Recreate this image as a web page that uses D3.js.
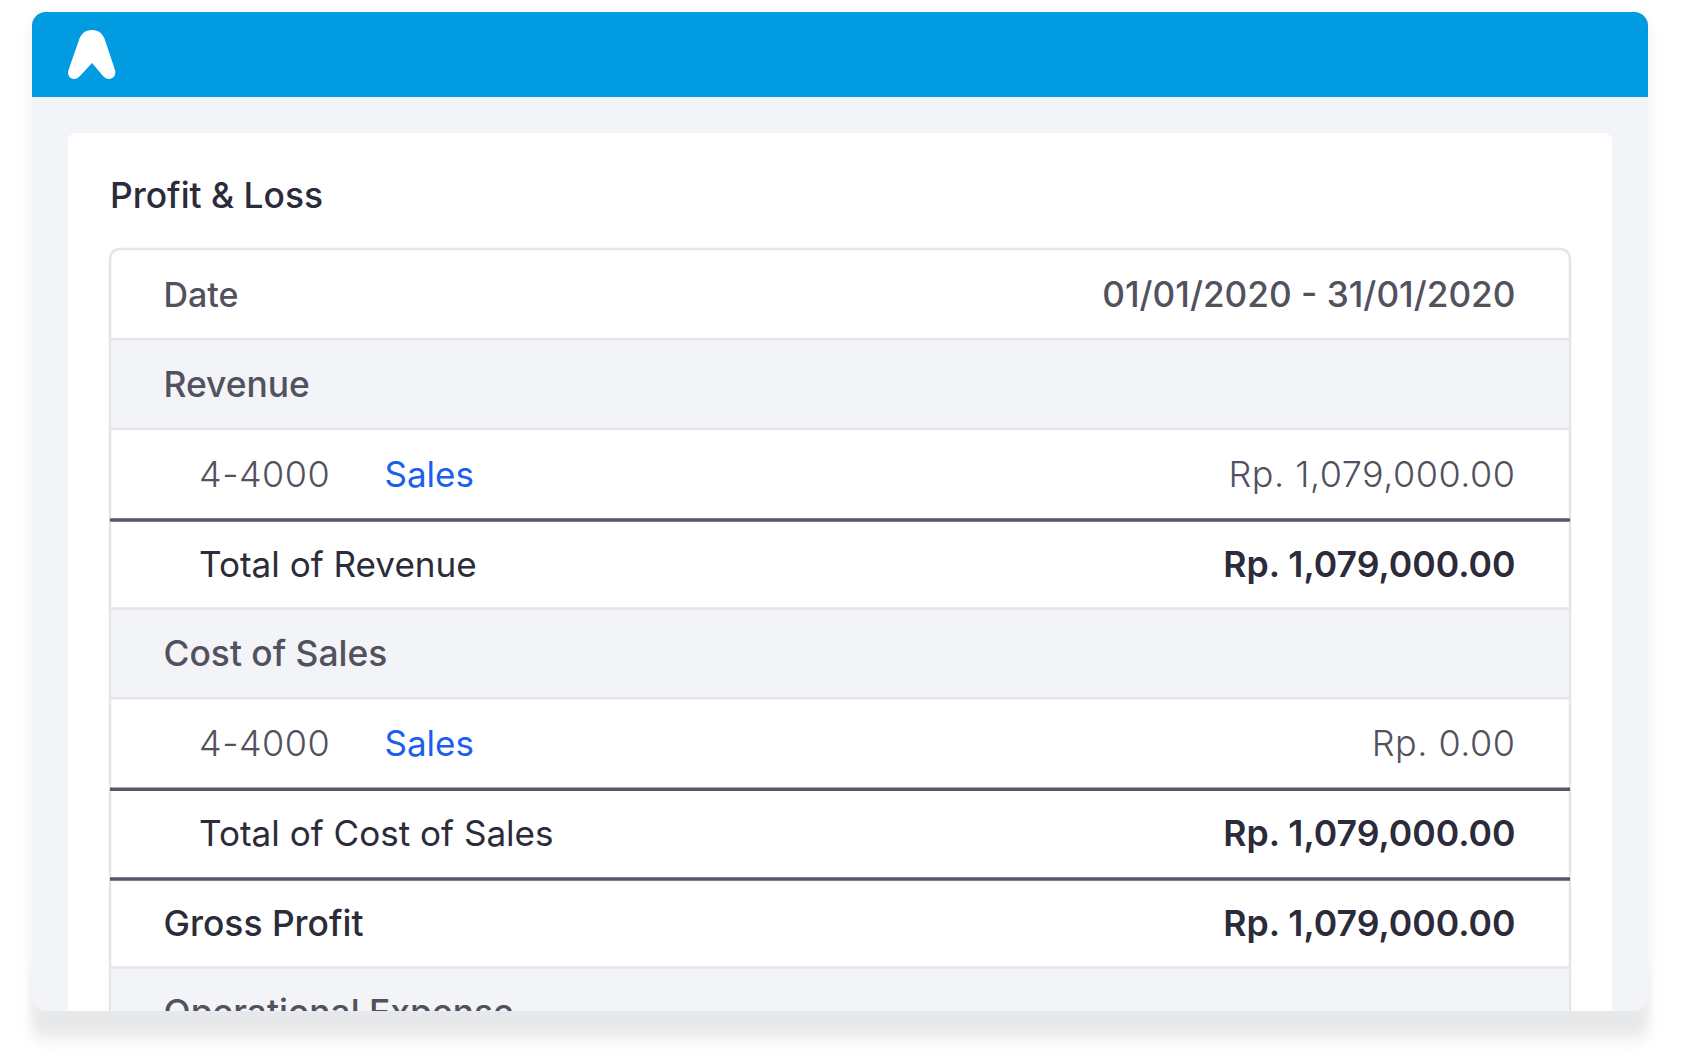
<!DOCTYPE html>
<html lang="en">
<head>
<meta charset="utf-8">
<title>Profit & Loss</title>
<script src="https://cdnjs.cloudflare.com/ajax/libs/d3/7.8.5/d3.min.js"></script>
<style>
  html, body { margin: 0; padding: 0; background: #fff; }
  svg { display: block; }
  text { font-family: Inter, "Open Sans", sans-serif; }
</style>
</head>
<body>
<script>
// table content, one entry per row
var rowLabels = ["Date", "Revenue", "Sales", "Total of Revenue", "Cost of Sales", "Sales", "Total of Cost of Sales", "Gross Profit", "Operational Expense"];
var rowCodes = ["", "", "4-4000", "", "", "4-4000", "", "", ""];
var rowValues = ["01/01/2020 - 31/01/2020", "", "Rp. 1,079,000.00", "Rp. 1,079,000.00", "", "Rp. 0.00", "Rp. 1,079,000.00", "Rp. 1,079,000.00", ""];
var rowKinds = ["head", "section", "item", "total", "section", "item", "total", "gross", "section"];

var W = 1681, H = 1064;
var frame = {x: 32, y: 12, w: 1616, h: 999, r: 14};
var card = {x: 68, y: 133, w: 1544, r: 8};
var table = {x: 110, y: 249.5, w: 1460};
var rowH = 89.75;

var svg = d3.select("body").append("svg").attr("width", W).attr("height", H);
var defs = svg.append("defs");

function blur(id, dev) {
  defs.append("filter").attr("id", id)
    .attr("x", "-5%").attr("y", "-20%").attr("width", "110%").attr("height", "140%")
    .append("feGaussianBlur").attr("stdDeviation", dev);
}
blur("softAll", 7);
blur("softBottom", 5);

defs.append("clipPath").attr("id", "frameClip").append("rect")
  .attr("x", frame.x).attr("y", frame.y).attr("width", frame.w).attr("height", frame.h).attr("rx", frame.r);

// shadow: faint all round, heavier strip under the frame
svg.append("rect").attr("x", frame.x - 2).attr("y", frame.y + 6).attr("width", frame.w + 4).attr("height", frame.h + 26)
  .attr("rx", frame.r).attr("fill", "#000").attr("opacity", 0.05).attr("filter", "url(#softAll)");
svg.append("rect").attr("x", frame.x + 2).attr("y", 960).attr("width", frame.w - 4).attr("height", 72)
  .attr("rx", 12).attr("fill", "#e7e8ea").attr("filter", "url(#softBottom)");

svg.append("rect").attr("x", frame.x).attr("y", frame.y).attr("width", frame.w).attr("height", frame.h)
  .attr("rx", frame.r).attr("fill", "#f3f4f8");

var g = svg.append("g").attr("clip-path", "url(#frameClip)");

// blue header bar + logo
g.append("rect").attr("x", frame.x).attr("y", frame.y).attr("width", frame.w).attr("height", 85).attr("fill", "#009be0");
g.append("path").attr("fill", "#fff")
  .attr("d", "M92 30C99 30 103 34 105 40L115 70C116.5 75 113 79 109 79C106 79 104.5 77.5 103 76L92 63L80 76C78.5 77.5 77 79 74 79C70 79 67 75 68.5 70L79 40C81 34 85 30 92 30Z");

// white card
g.append("rect").attr("x", card.x).attr("y", card.y).attr("width", card.w).attr("height", 1000).attr("rx", card.r).attr("fill", "#fff");
g.append("text").attr("x", 110).attr("y", 207.5).attr("font-size", 35.4).attr("font-weight", 500).attr("fill", "#2b2b3a").text("Profit & Loss");

// rows
var y = d3.scaleLinear().domain([0, rowLabels.length]).range([table.y, table.y + rowH * rowLabels.length]);
var rows = d3.range(rowLabels.length);

var tableG = g.append("g");
tableG.append("rect").attr("x", table.x).attr("y", table.y - 0.5).attr("width", table.w).attr("height", 1000)
  .attr("rx", 10).attr("fill", "#fff").attr("stroke", "#e4e5e8").attr("stroke-width", 2.5);

tableG.selectAll("rect.band").data(rows.filter(function(i) { return rowKinds[i] == "section"; })).enter()
  .append("rect").attr("class", "band")
  .attr("x", table.x + 1).attr("width", table.w - 2)
  .attr("y", function(i) { return y(i); }).attr("height", rowH).attr("fill", "#f3f4f8");

// divider under each row, dark one under item and total-of-cost rows
function isDark(i) { return rowKinds[i] == "item" || i == 6; }
tableG.selectAll("line.sep").data(rows.slice(0, -1)).enter()
  .append("line").attr("class", "sep")
  .attr("x1", table.x).attr("x2", table.x + table.w)
  .attr("y1", function(i) { return y(i + 1) + (isDark(i) ? 1.3 : 0); })
  .attr("y2", function(i) { return y(i + 1) + (isDark(i) ? 1.3 : 0); })
  .attr("stroke", function(i) { return isDark(i) ? "#565667" : "#e4e5e8"; })
  .attr("stroke-width", function(i) { return isDark(i) ? 3.4 : 2.5; });

var labelX = {head: 163.5, section: 163.5, gross: 163.5, item: 384.5, total: 199};
// weight, colour, size, letter spacing
var labelStyle = {
  head: [500, "#52525f", 34, 0], section: [500, "#52525f", 35.4, 0], item: [400, "#1c5fee", 35, 0],
  total: [400, "#2b2b3a", 35.1, 0], gross: [550, "#2b2b3a", 35.4, 0]
};
var valueStyle = {
  head: [500, "#52525f", 35.2, 0], item: [300, "#52525f", 36, 0.5],
  total: [600, "#2b2b3a", 35.6, 0], gross: [600, "#2b2b3a", 35.6, 0]
};

var rowText = tableG.selectAll("g.row").data(rows).enter().append("g").attr("class", "row")
  .attr("transform", function(i) { return "translate(0," + (y(i) + rowH / 2 + 13) + ")"; });

rowText.append("text")
  .attr("x", function(i) { return labelX[rowKinds[i]]; })
  .attr("font-weight", function(i) { return labelStyle[rowKinds[i]][0]; })
  .attr("fill", function(i) { return labelStyle[rowKinds[i]][1]; })
  .attr("font-size", function(i) { return labelStyle[rowKinds[i]][2]; })
  .text(function(i) { return rowLabels[i]; });

rowText.filter(function(i) { return rowCodes[i]; }).append("text")
  .attr("x", 199).attr("font-weight", 300).attr("fill", "#52525f")
  .attr("font-size", 36).attr("letter-spacing", 0.5)
  .text(function(i) { return rowCodes[i]; });

rowText.filter(function(i) { return rowValues[i]; }).append("text")
  .attr("x", 1515.5).attr("text-anchor", "end")
  .attr("font-weight", function(i) { return valueStyle[rowKinds[i]][0]; })
  .attr("fill", function(i) { return valueStyle[rowKinds[i]][1]; })
  .attr("font-size", function(i) { return valueStyle[rowKinds[i]][2]; })
  .attr("letter-spacing", function(i) { return valueStyle[rowKinds[i]][3]; })
  .text(function(i) { return rowValues[i]; });
</script>
</body>
</html>
